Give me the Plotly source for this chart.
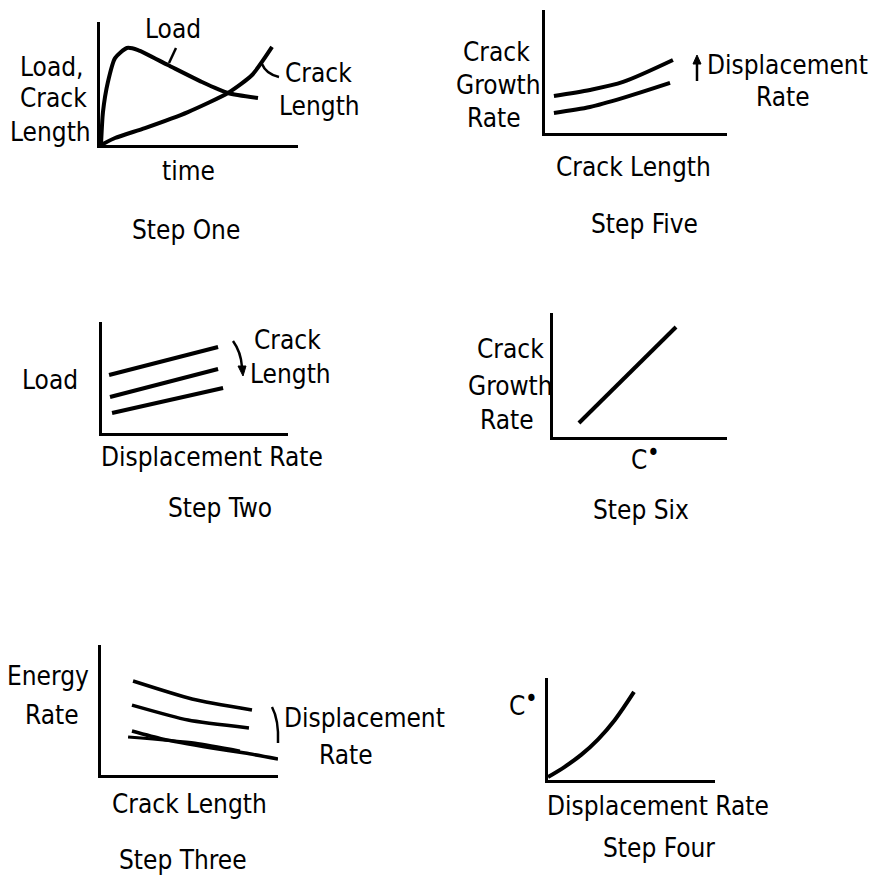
import plotly.graph_objects as go

W, H = 875, 876

# ---- schematic curve values (each panel's axes run 0..1) ----
# Step One: load and crack length versus time
s1_time_load = [0.005, 0.015, 0.040, 0.076, 0.136, 0.192, 0.343, 0.515, 0.646, 0.798]
s1_load = [0.0, 0.268, 0.512, 0.707, 0.789, 0.772, 0.650, 0.512, 0.423, 0.382]
s1_time_crack = [0.005, 0.076, 0.227, 0.444, 0.646, 0.768, 0.869]
s1_crack = [0.0, 0.057, 0.138, 0.268, 0.423, 0.569, 0.797]

# Step Five: crack growth rate versus crack length, two displacement rates
s5_len_hi = [0.049, 0.247, 0.429, 0.703]
s5_rate_hi = [0.301, 0.350, 0.415, 0.593]
s5_len_lo = [0.049, 0.247, 0.429, 0.687]
s5_rate_lo = [0.163, 0.211, 0.285, 0.407]

# Step Two: load versus displacement rate, three crack lengths
s2_rate = [[0.038, 0.624], [0.043, 0.624], [0.054, 0.651]]
s2_load = [[0.523, 0.775], [0.324, 0.577], [0.180, 0.405]]

# Step Six: crack growth rate versus C*
s6_cstar = [0.149, 0.707]
s6_growth = [0.113, 0.887]

# Step Three: energy rate versus crack length, several displacement rates
s3_len = [[0.181, 0.514, 0.853], [0.175, 0.492, 0.836],
          [0.175, 0.345, 0.627, 0.814, 1.0], [0.153, 0.531, 0.785]]
s3_energy = [[0.723, 0.585, 0.500], [0.538, 0.423, 0.362],
             [0.338, 0.277, 0.208, 0.169, 0.123], [0.292, 0.246, 0.185]]

# Step Four: C* versus displacement rate
s4_rate = [0.0, 0.1, 0.2, 0.3, 0.4, 0.515]
s4_cstar = [0.029, 0.129, 0.249, 0.399, 0.589, 0.864]

FONT = "Liberation Sans Narrow, DejaVu Sans Condensed, Arial Narrow, sans-serif"
FS = 26


def fx(x):
    return x / W


def fy(y):
    return 1 - y / H


# panel boxes in pixels: left, top, right, bottom
boxes = {
    1: (100, 22, 298, 145),
    2: (545, 10, 727, 133),
    3: (102, 322, 288, 433),
    4: (553, 313, 727, 437),
    5: (101, 645, 278, 775),
    6: (548, 678, 715, 780),
}

fig = go.Figure()


def curve(panel, xs, ys, width=4, smooth=None):
    suffix = "" if panel == 1 else str(panel)
    line = dict(color="black", width=width)
    if smooth:
        line.update(shape="spline", smoothing=smooth)
    fig.add_trace(go.Scatter(
        x=xs, y=ys, mode="lines", line=line,
        xaxis="x" + suffix, yaxis="y" + suffix,
        hoverinfo="skip", showlegend=False,
    ))


curve(1, s1_time_load, s1_load, smooth=0.6)
curve(1, s1_time_crack, s1_crack, smooth=0.6)
curve(2, s5_len_hi, s5_rate_hi, smooth=0.8)
curve(2, s5_len_lo, s5_rate_lo, smooth=0.8)
for xs, ys in zip(s2_rate, s2_load):
    curve(3, xs, ys)
curve(4, s6_cstar, s6_growth)
for i, (xs, ys) in enumerate(zip(s3_len, s3_energy)):
    curve(5, xs, ys, width=3.5 if i < 3 else 3, smooth=0.6)
curve(6, s4_rate, s4_cstar, smooth=1.0)

layout_axes = {}
for k, (l, t, r, b) in boxes.items():
    suffix = "" if k == 1 else str(k)
    common = dict(range=[0, 1], showgrid=False, zeroline=False,
                  showticklabels=False, ticks="", showline=True,
                  linecolor="black", linewidth=3, fixedrange=True)
    layout_axes["xaxis" + suffix] = dict(domain=[fx(l), fx(r)],
                                         anchor="y" + suffix, **common)
    layout_axes["yaxis" + suffix] = dict(domain=[fy(b), fy(t)],
                                         anchor="x" + suffix, **common)

# text labels: (text, x px, y px, anchor, size)
labels = [
    # Step One
    ("Load,", 86, 67, "right", FS), ("Crack", 89, 98, "right", FS),
    ("Length", 93, 132, "right", FS),
    ("Load", 173, 29, "center", FS),
    ("Crack", 318, 73, "center", FS), ("Length", 319, 106, "center", FS),
    ("time", 188, 171, "center", FS), ("Step One", 186, 230, "center", FS),
    # Step Five
    ("Crack", 496, 52, "center", FS), ("Growth", 498, 85, "center", FS),
    ("Rate", 494, 118, "center", FS),
    ("Displacement", 787, 65, "center", FS), ("Rate", 783, 97, "center", FS),
    ("Crack Length", 633, 167, "center", FS), ("Step Five", 644, 224, "center", FS),
    # Step Two
    ("Load", 50, 380, "center", FS),
    ("Crack", 287, 340, "center", FS), ("Length", 290, 374, "center", FS),
    ("Displacement Rate", 212, 457, "center", FS), ("Step Two", 220, 508, "center", FS),
    # Step Six
    ("Crack", 511, 349, "center", FS), ("Growth", 511, 386, "center", FS),
    ("Rate", 507, 420, "center", FS),
    ("C", 639, 460, "center", FS), ("•", 653, 453, "center", 24),
    ("Step Six", 641, 510, "center", FS),
    # Step Three
    ("Energy", 48, 676, "center", FS), ("Rate", 52, 715, "center", FS),
    ("Displacement", 364, 718, "center", FS), ("Rate", 346, 755, "center", FS),
    ("Crack Length", 189, 804, "center", FS), ("Step Three", 183, 860, "center", FS),
    # Step Four
    ("C", 517, 706, "center", FS), ("•", 531, 699, "center", 24),
    ("Displacement Rate", 658, 806, "center", FS), ("Step Four", 659, 848, "center", FS),
]

annotations = []
for text, x, y, anc, size in labels:
    annotations.append(dict(
        text=text, x=fx(x), y=fy(y), xref="paper", yref="paper",
        xanchor=anc, yanchor="middle", showarrow=False,
        font=dict(family=FONT, size=size, color="black"),
    ))


def pth(points, close=False):
    d = "M {} {}".format(fx(points[0][0]), fy(points[0][1]))
    if len(points) == 3 and not close:
        (x1, y1), (x2, y2) = points[1], points[2]
        d += " Q {} {} {} {}".format(fx(x1), fy(y1), fx(x2), fy(y2))
    else:
        for x, y in points[1:]:
            d += " L {} {}".format(fx(x), fy(y))
    if close:
        d += " Z"
    return d


line_style = dict(color="black", width=2.5)
shapes = [
    # pointer to the load curve (Step One)
    dict(type="path", path=pth([(176, 48), (169, 63)]), line=line_style),
    # hook pointing to the crack length curve (Step One)
    dict(type="path", path=pth([(262, 64), (266, 74), (279, 77)]), line=line_style),
    # brace beside the displacement rate family (Step Three)
    dict(type="path", path=pth([(272, 707), (279, 720), (278, 743)]), line=line_style),
    # displacement rate increasing (Step Five): shaft and head
    dict(type="path", path=pth([(697, 81), (697, 62)]), line=line_style),
    dict(type="path", path=pth([(693, 64), (697, 55), (701, 64)], close=True),
         line=dict(color="black", width=1), fillcolor="black"),
    # crack length increasing (Step Two): shaft and head
    dict(type="path", path=pth([(233, 341), (241, 352), (242, 367)]), line=line_style),
    dict(type="path", path=pth([(238, 366), (243, 376), (246, 366)], close=True),
         line=dict(color="black", width=1), fillcolor="black"),
]
for s in shapes:
    s.update(xref="paper", yref="paper")

fig.update_layout(
    width=W, height=H,
    margin=dict(l=0, r=0, t=0, b=0),
    paper_bgcolor="white", plot_bgcolor="rgba(0,0,0,0)",
    showlegend=False,
    annotations=annotations,
    shapes=shapes,
    **layout_axes,
)

fig.write_html("out.html", config={"displayModeBar": False})
